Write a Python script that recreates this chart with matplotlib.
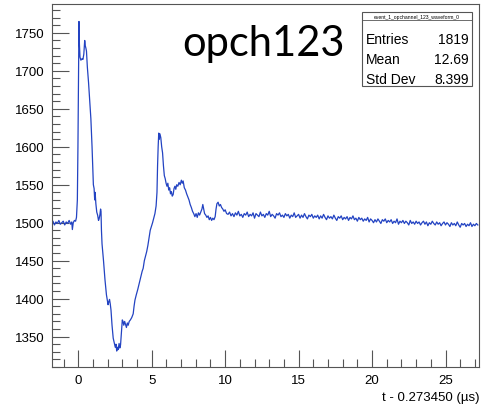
import matplotlib
matplotlib.use("Agg")
import matplotlib.pyplot as plt
import numpy as np
from matplotlib.patches import Rectangle
from matplotlib.ticker import MultipleLocator

plt.rcParams["font.family"] = ["Liberation Sans", "DejaVu Sans"]

# waveform samples (time in us, ADC counts)
pulse_t = [-1.82, -1.72, -1.62, -1.52, -1.42, -1.32, -1.22, -1.12, -1.02, -0.92,
           -0.82, -0.72, -0.62, -0.52, -0.44, -0.40, -0.34, -0.26, -0.18, -0.12,
           -0.06, -0.02, 0.02, 0.05, 0.08, 0.12, 0.18, 0.26, 0.32, 0.38,
           0.44, 0.48, 0.52, 0.56, 0.62, 0.70, 0.78, 0.86, 0.94, 1.03,
           1.08, 1.12, 1.15, 1.20, 1.26, 1.32, 1.38, 1.42, 1.48, 1.52,
           1.55, 1.58, 1.62, 1.72, 1.82, 1.92, 1.98, 2.03, 2.08, 2.13,
           2.18, 2.23, 2.30, 2.38, 2.45, 2.52, 2.57, 2.62, 2.67, 2.72,
           2.78, 2.83, 2.88, 2.94, 3.00, 3.05, 3.10, 3.16, 3.22, 3.28,
           3.34, 3.40, 3.47, 3.55, 3.64, 3.74, 3.80, 3.86, 3.95, 4.05,
           4.15, 4.25, 4.35, 4.42, 4.50, 4.58, 4.66, 4.74, 4.82, 4.90,
           4.98, 5.06, 5.14, 5.22, 5.30, 5.36, 5.40, 5.44, 5.48, 5.52,
           5.56, 5.62, 5.68, 5.74, 5.80, 5.86, 5.92, 5.98, 6.04, 6.10,
           6.16, 6.22, 6.28, 6.34, 6.40, 6.46, 6.52, 6.58, 6.64, 6.70,
           6.78, 6.86, 6.94, 7.02, 7.08, 7.14, 7.22, 7.30, 7.38, 7.46,
           7.54, 7.62, 7.70, 7.78, 7.86, 7.94, 8.02, 8.10, 8.18, 8.26,
           8.34, 8.42, 8.48, 8.54, 8.60, 8.68, 8.76, 8.84, 8.92, 9.00,
           9.08, 9.16, 9.24, 9.32, 9.38, 9.44, 9.52, 9.60, 9.68, 9.76,
           9.84, 9.92, 10.00, 10.10]
pulse_adc = [1499, 1502, 1497, 1501, 1499, 1503, 1498, 1500, 1502, 1497,
             1501, 1499, 1503, 1498, 1501, 1491, 1500, 1503, 1502, 1507,
             1530, 1600, 1700, 1765, 1735, 1718, 1714, 1716, 1715, 1722,
             1740, 1733, 1730, 1726, 1705, 1685, 1660, 1637, 1600, 1550,
             1545, 1530, 1540, 1525, 1514, 1510, 1503, 1505, 1511, 1518,
             1515, 1490, 1472, 1450, 1425, 1405, 1398, 1392, 1396, 1399,
             1393, 1385, 1365, 1348, 1342, 1336, 1340, 1331, 1336, 1333,
             1341, 1335, 1339, 1355, 1372, 1370, 1365, 1370, 1366, 1362,
             1368, 1365, 1370, 1372, 1375, 1380, 1390, 1398, 1405, 1412,
             1420, 1428, 1436, 1440, 1450, 1456, 1462, 1470, 1480, 1490,
             1495, 1500, 1506, 1512, 1522, 1540, 1575, 1600, 1618, 1610,
             1617, 1612, 1600, 1592, 1575, 1562, 1558, 1552, 1548, 1552,
             1543, 1546, 1538, 1541, 1535, 1537, 1545, 1548, 1544, 1550,
             1548, 1553, 1550, 1556, 1552, 1555, 1546, 1543, 1538, 1534,
             1530, 1524, 1520, 1515, 1512, 1508, 1512, 1507, 1513, 1510,
             1514, 1518, 1524, 1518, 1512, 1510, 1507, 1509, 1504, 1507,
             1503, 1506, 1504, 1508, 1518, 1525, 1527, 1522, 1524, 1520,
             1518, 1515, 1517, 1512]

# slow tail after the pulse, one reading every 0.1 us from 10.2 us
tail_adc = [1511, 1514, 1509, 1512, 1508, 1513, 1510, 1515, 1509, 1511,
            1507, 1512, 1510, 1514, 1508, 1511, 1509, 1513, 1506, 1512,
            1510, 1508, 1514, 1509, 1511, 1507, 1512, 1510, 1515, 1508,
            1511, 1509, 1506, 1512, 1510, 1513, 1508, 1510, 1507, 1512,
            1509, 1511, 1506, 1510, 1508, 1513, 1507, 1509, 1511, 1506,
            1510, 1507, 1512, 1508, 1505, 1510, 1508, 1511, 1506, 1509,
            1507, 1510, 1505, 1509, 1506, 1511, 1507, 1504, 1509, 1506,
            1508, 1505, 1510, 1506, 1503, 1508, 1506, 1509, 1504, 1507,
            1505, 1508, 1503, 1507, 1505, 1509, 1504, 1506, 1502, 1507,
            1504, 1506, 1502, 1505, 1503, 1507, 1501, 1505, 1503, 1500,
            1504, 1501, 1505, 1502, 1499, 1504, 1502, 1505, 1500, 1503,
            1501, 1504, 1499, 1502, 1500, 1505, 1498, 1502, 1500, 1503,
            1499, 1502, 1500, 1497, 1503, 1499, 1501, 1498, 1502, 1499,
            1501, 1497, 1500, 1502, 1498, 1501, 1496, 1500, 1498, 1502,
            1499, 1497, 1501, 1498, 1500, 1496, 1499, 1501, 1497, 1500,
            1498, 1495, 1500, 1497, 1499, 1496, 1501, 1497, 1494, 1499,
            1497, 1499, 1495, 1498, 1496, 1500, 1495, 1498, 1496, 1499,
            1497]
tail_t = 10.2 + 0.1 * np.arange(len(tail_adc))

hist_name = "event_1_opchannel_123_waveform_0"
stat_labels = ["Entries", "Mean", "Std Dev"]
stat_values = ["1819", "12.69", "8.399"]
channel_label = "opch123"

t = np.concatenate([pulse_t, tail_t])
adc = np.concatenate([pulse_adc, tail_adc])

W, H = 487, 406
fig = plt.figure(figsize=(W / 100, H / 100), dpi=100)
ax = fig.add_axes([51.5 / W, 38 / H, (479 - 51.5) / W, (368 - 5) / H])

ax.plot(t, adc, color="#2343c2", linewidth=0.9)
ax.set_xlim(-1.82, 27.28)
ax.set_ylim(1310, 1788)

ax.xaxis.set_major_locator(MultipleLocator(5))
ax.xaxis.set_minor_locator(MultipleLocator(1))
ax.yaxis.set_major_locator(MultipleLocator(50))
ax.yaxis.set_minor_locator(MultipleLocator(10))
ax.tick_params(which="both", direction="in", top=False, right=False,
               color="#555555", labelsize=9.5, labelcolor="black")
ax.tick_params(which="major", length=12, width=0.8)
ax.tick_params(which="minor", length=6, width=0.8)
ax.tick_params(axis="x", pad=5)
ax.tick_params(axis="y", pad=5)
for s in ax.spines.values():
    s.set_color("#555555")
    s.set_linewidth(0.8)

ax.set_xlabel("t - 0.273450 (\u00b5s)", fontsize=9.5, loc="right", labelpad=4)

# stats box
bx0, bx1, by0, by1 = 362, 472, 13, 87
fig.patches.append(Rectangle((bx0 / W, 1 - by1 / H), (bx1 - bx0) / W, (by1 - by0) / H,
                             transform=fig.transFigure, facecolor="white",
                             edgecolor="#555555", linewidth=0.8, zorder=5))
fig.add_artist(plt.Line2D([bx0 / W, bx1 / W], [1 - 21 / H, 1 - 21 / H],
                          transform=fig.transFigure, color="#555555", linewidth=0.6, zorder=6))
fig.text((bx0 + bx1) / 2 / W, 1 - 17 / H, hist_name, fontsize=3.6,
         ha="center", va="center", zorder=7)
for i, (lab, val) in enumerate(zip(stat_labels, stat_values)):
    y = 1 - (40 + 20 * i) / H
    fig.text(366 / W, y, lab, fontsize=10, ha="left", va="center", zorder=7)
    fig.text(469 / W, y, val, fontsize=10, ha="right", va="center", zorder=7)

fig.text(182 / W, 1 - 44 / H, channel_label, fontsize=30, family=["Lato", "DejaVu Sans"],
         ha="left", va="center")

fig.savefig("out.png", dpi=100)
